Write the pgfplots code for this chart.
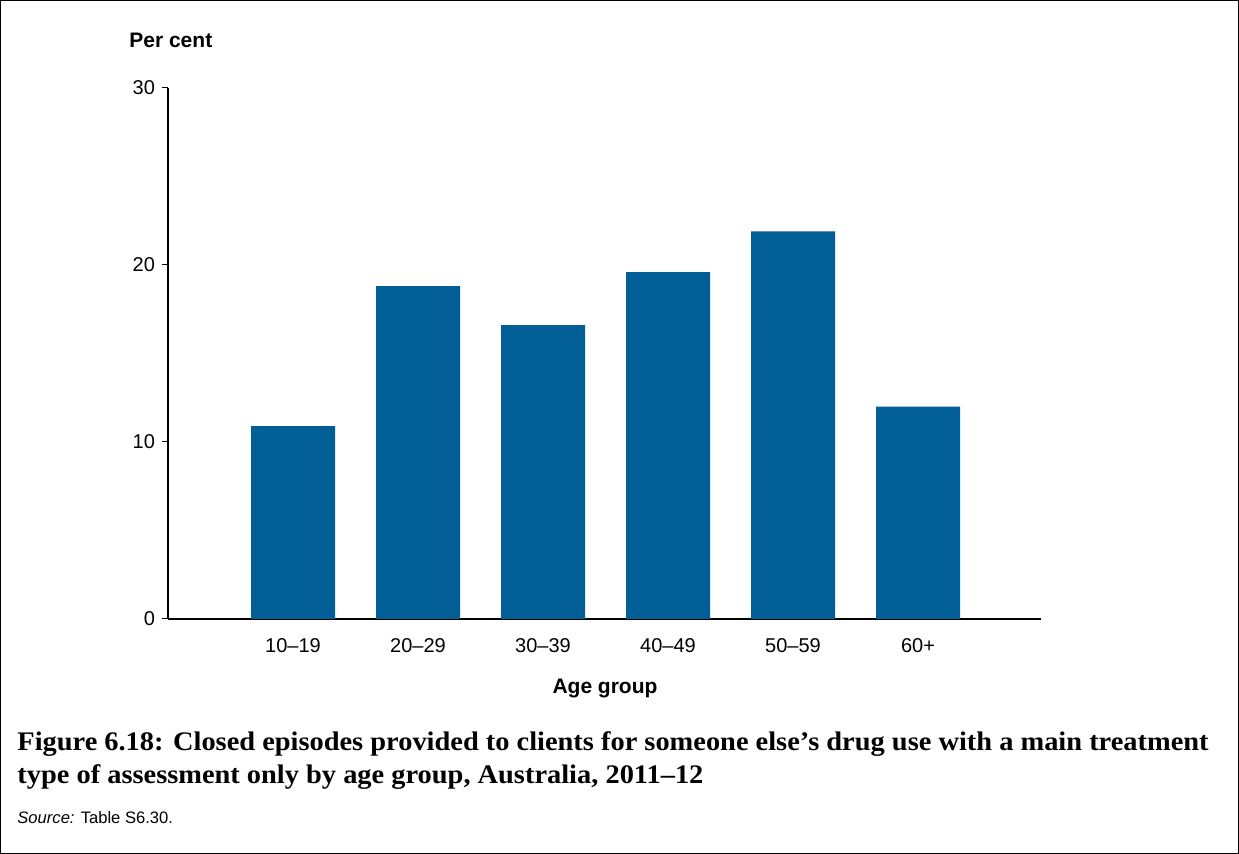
\documentclass[border=0pt]{standalone}
\usepackage{pgfplots}
\pgfplotsset{compat=1.18}
\usepackage{fontspec}
\setmainfont{Liberation Sans}
\newfontfamily\capfont[FakeStretch=1.06]{Liberation Serif}
\definecolor{barblue}{RGB}{2,94,150}
\begin{document}
\begin{tikzpicture}[x=1pt,y=1pt]
\draw[line width=0.6pt] (0.3,0.3) rectangle (619.2,426.7);
\begin{axis}[
  at={(146.5pt,117.5pt)}, anchor=origin,
  scale only axis, width=436.5pt, height=265.5pt,
  xmin=-1, xmax=5.984, ymin=0, ymax=30,
  axis x line=bottom, axis y line=left,
  axis line style={-, line width=0.6pt},
  x axis line style={line width=0.8pt},
  xtick=data, xticklabels={10–19,20–29,30–39,40–49,50–59,60+},
  xtick style={draw=none},
  ytick={0,10,20,30},
  tick align=outside, major tick length=3pt,
  ytick style={line width=0.5pt, black},
  tick label style={font=\fontsize{10}{12}\selectfont},
  /pgf/number format/assume math mode=true,
  xticklabel style={yshift=-3.2pt},
  yticklabel style={xshift=0pt},
  ybar, bar width=42pt,
  clip=false,
]
\addplot[fill=barblue, draw=none] coordinates {(0,10.9) (1,18.8) (2,16.6) (3,19.6) (4,21.9) (5,12.0)};
\end{axis}
\node[anchor=base west, inner sep=0pt, font=\bfseries\fontsize{10.5}{12}\selectfont] at (64.5,403) {Per cent};
\node[font=\bfseries\fontsize{10.5}{12}\selectfont] at (302.5,82.5) {Age group};
\node[anchor=base west, font=\capfont\bfseries\fontsize{13.4}{15}\selectfont, inner sep=0pt] at (8.5,51.5) {Figure 6.18: Closed episodes provided to clients for someone else’s drug use with a main treatment};
\node[anchor=base west, font=\capfont\bfseries\fontsize{13.4}{15}\selectfont, inner sep=0pt] at (8.5,35) {type of assessment only by age group, Australia, 2011–12};
\node[anchor=base west, font=\fontsize{8.3}{10}\selectfont, inner sep=0pt] at (8.5,15) {\textit{Source:} Table S6.30.};
\end{tikzpicture}
\end{document}
